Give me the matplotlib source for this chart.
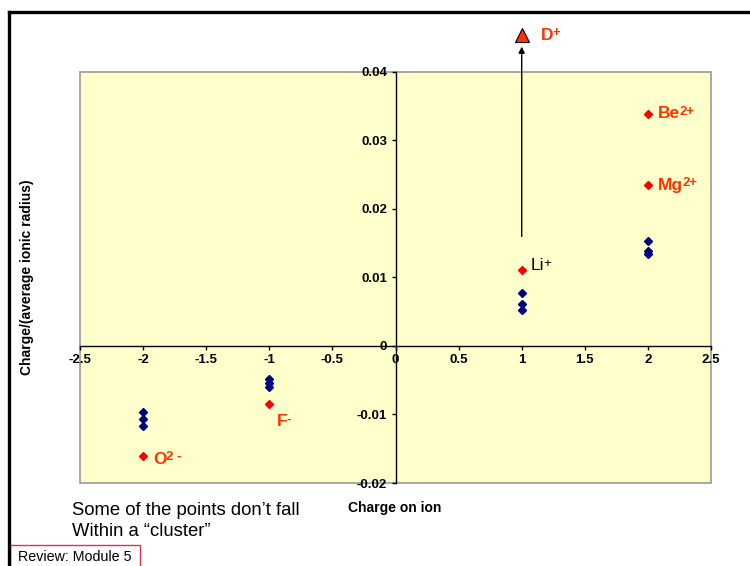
import matplotlib
matplotlib.use("Agg")
import matplotlib.pyplot as plt
from matplotlib.patches import Rectangle
from matplotlib.lines import Line2D

plt.rcParams['font.family'] = ['Liberation Sans', 'DejaVu Sans']

# Data
cluster_x = [-2, -2, -2, -1, -1, -1, 1, 1, 1, 2, 2, 2]
cluster_y = [-0.0096, -0.0107, -0.0117, -0.0048, -0.0054, -0.0060,
             0.0078, 0.0062, 0.0053, 0.0154, 0.0139, 0.0134]

outlier_x = [-2, -1, 1, 2, 2]
outlier_y = [-0.0161, -0.0085, 0.0111, 0.0339, 0.0235]
outlier_base = ["O", "F", "Li", "Be", "Mg"]
outlier_sup = ["2 -", "-", "+", "2+", "2+"]

d_x = 1
d_y = 0.0454
d_base = "D"
d_sup = "+"
arrow_start = 0.016
arrow_end = 0.0437

x_ticks = [-2.5, -2, -1.5, -1, -0.5, 0, 0.5, 1, 1.5, 2, 2.5]
x_ticklabels = ["-2.5", "-2", "-1.5", "-1", "-0.5", "0", "0.5", "1", "1.5", "2", "2.5"]
y_ticks = [-0.02, -0.01, 0, 0.01, 0.02, 0.03, 0.04]
y_ticklabels = ["-0.02", "-0.01", "0", "0.01", "0.02", "0.03", "0.04"]

fig = plt.figure(figsize=(7.5, 5.66), dpi=100)
ax = fig.add_axes([80/750, 1-483/566, 631/750, 411/566])
ax.set_facecolor('#FFFFCC')
ax.set_xlim(-2.5, 2.5)
ax.set_ylim(-0.02, 0.04)

# gray plot-area border
ax.add_patch(Rectangle((0, 0), 1, 1, transform=ax.transAxes, fill=False,
                       edgecolor='#999999', lw=1.2, zorder=0.5, clip_on=False))

for s in ['top', 'right']:
    ax.spines[s].set_visible(False)
ax.spines['left'].set_position(('data', 0))
ax.spines['bottom'].set_position(('data', 0))
ax.spines['left'].set_color('black')
ax.spines['bottom'].set_color('black')
ax.spines['left'].set_linewidth(1)
ax.spines['bottom'].set_linewidth(1)

ax.set_xticks(x_ticks)
ax.set_xticklabels(x_ticklabels, fontweight='bold', fontsize=9.5)
ax.set_yticks(y_ticks)
ax.set_yticklabels(y_ticklabels, fontweight='bold', fontsize=9.5)
ax.tick_params(axis='both', direction='out', length=3, width=1, pad=3, color='black')

ax.plot(cluster_x, cluster_y, linestyle='none', marker='D', markersize=4.5,
        color='#000080', zorder=3)
ax.plot(outlier_x, outlier_y, linestyle='none', marker='D', markersize=4.5,
        color='#FF0000', zorder=3)


def label(x, y, base, sup, color, weight):
    t = ax.text(x, y, base, color=color, fontweight=weight, fontsize=12.5,
                va='center', ha='left', clip_on=False)
    ax.annotate(sup, xy=(1, 1), xycoords=t, xytext=(-0.6, 0.3),
                textcoords='offset points', color=color, fontweight=weight,
                fontsize=9.5, ha='left', va='top', annotation_clip=False)


label_offsets = [(0.08, -0.0004), (0.06, -0.0025), (0.07, 0.0006), (0.08, 0.0), (0.08, 0.0)]
label_colors = ['#FF3300', '#FF3300', 'black', '#FF3300', '#FF3300']
label_weights = ['bold', 'bold', 'normal', 'bold', 'bold']
for x, y, b, s, (dx, dy), c, w in zip(outlier_x, outlier_y, outlier_base, outlier_sup,
                                        label_offsets, label_colors, label_weights):
    label(x + dx, y + dy, b, s, c, w)

# D+ point and arrow
ax.plot([d_x], [d_y], linestyle='none', marker='^', markersize=10,
        markerfacecolor='#FF3300', markeredgecolor='black', markeredgewidth=0.8,
        clip_on=False, zorder=4)
label(d_x + 0.15, d_y, d_base, d_sup, '#FF3300', 'bold')
ax.annotate('', xy=(d_x, arrow_end), xytext=(d_x, arrow_start),
            arrowprops=dict(arrowstyle='-|>', color='black', lw=1,
                            mutation_scale=9, shrinkA=0, shrinkB=0),
            annotation_clip=False)

# axis labels
fig.text(395/750, 1-508/566, "Charge on ion", fontweight='bold', fontsize=10,
         ha='center', va='center')
fig.text(27/750, 1-277/566, "Charge/(average ionic radius)", fontweight='bold',
         fontsize=10, ha='center', va='center', rotation=90)

# annotation text
fig.text(72/750, 1-521/566, "Some of the points don\u2019t fall\nWithin a \u201ccluster\u201d",
         fontsize=13.3, ha='left', va='center', linespacing=1.3)

# Review box
fig.add_artist(Rectangle((10/750, -0.01), 130/750, (566-545)/566 + 0.01,
                         transform=fig.transFigure, fill=False,
                         edgecolor='#E0304F', lw=1))
fig.text(18/750, 1-557/566, "Review: Module 5", fontsize=10.3, ha='left',
         va='center')

# outer black frame
fig.add_artist(Line2D([9/750, 9/750], [0, 1-12/566], transform=fig.transFigure,
                      color='black', lw=2.4, solid_capstyle='projecting'))
fig.add_artist(Line2D([9/750, 1.0], [1-12/566, 1-12/566], transform=fig.transFigure,
                      color='black', lw=2.4, solid_capstyle='projecting'))

fig.savefig("out.png", dpi=100)
